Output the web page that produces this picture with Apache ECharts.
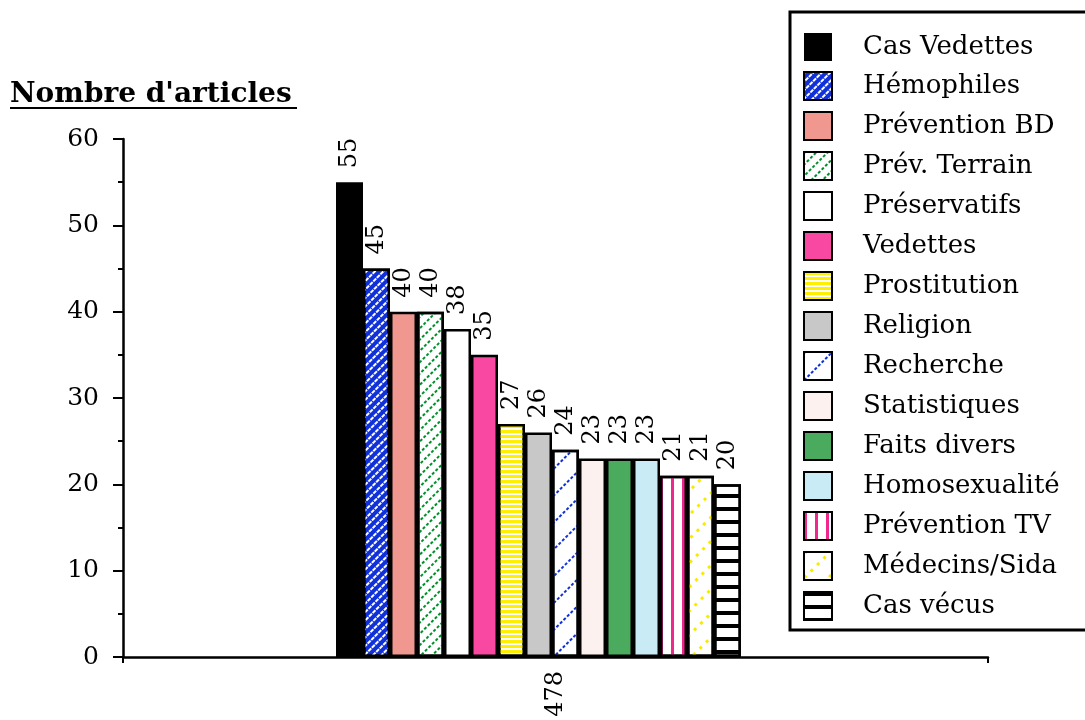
<!DOCTYPE html>
<html>
<head>
<meta charset="utf-8">
<script src="https://cdn.jsdelivr.net/npm/echarts@6/dist/echarts.min.js"></script>
<style>html,body{margin:0;padding:0;background:#fff;}#c{width:1085px;height:720px;}</style>
</head>
<body>
<div id="c"></div>
<script>
const xCategories = ['478'];
const seriesNames = ['Cas Vedettes','Hémophiles','Prévention BD','Prév. Terrain','Préservatifs','Vedettes','Prostitution','Religion','Recherche','Statistiques','Faits divers','Homosexualité','Prévention TV','Médecins/Sida','Cas vécus'];
const seriesValues = [55,45,40,40,38,35,27,26,24,23,23,23,21,21,20];
const yTicks = [0,10,20,30,40,50,60];

const FONT = 'DejaVu Serif';
const D = -Math.PI/4;
const styles = [
  {color:'#000000'},
  {color:'#1030d8', decal:{color:'#ffffff', dashArrayX:[4,1], dashArrayY:[2,4], rotation:D}},
  {color:'#f09890'},
  {color:'#ffffff', decal:{color:'#00902a', dashArrayX:[3,2], dashArrayY:[2,6], rotation:D}},
  {color:'#ffffff'},
  {color:'#f848a2'},
  {color:'#ffffff', decal:{color:'#fff000', dashArrayX:[1,0], dashArrayY:[3,2], rotation:0}},
  {color:'#c8c8c8'},
  {color:'#ffffff', decal:{color:'#1030d8', dashArrayX:[3,2], dashArrayY:[2,17], rotation:D}},
  {color:'#fdf1ef'},
  {color:'#4aab5e'},
  {color:'#c9ebf6'},
  {color:'#ffffff', decal:{color:'#f0288e', dashArrayX:[3,8], dashArrayY:[1,0], rotation:0}},
  {color:'#ffffff', decal:{color:'#f8ea00', dashArrayX:[3,6], dashArrayY:[3,14], rotation:D}},
  {color:'#ffffff', decal:{color:'#000000', dashArrayX:[1,0], dashArrayY:[4,9], rotation:0}}
];

const series = seriesNames.map((name,i)=>({
  name: name,
  type: 'bar',
  xAxisIndex: 0, yAxisIndex: 0,
  data: [seriesValues[i]],
  barWidth: 27,
  barGap: '0%',
  itemStyle: Object.assign({borderColor:'#000', borderWidth: i===0?0:2.5}, styles[i].decal ? {decal: Object.assign({symbol:'rect', symbolSize:1}, styles[i].decal)} : {}, {color: styles[i].color}),
  label: {
    show: true, position: 'top', rotate: 90, align: 'left', verticalAlign: 'middle',
    distance: 14, fontFamily: FONT, fontSize: 24, color: '#000'
  }
}));

const yMin = yTicks[0], yMax = yTicks[yTicks.length-1];
const chart = echarts.init(document.getElementById('c'), null, {renderer:'canvas'});
chart.setOption({
  animation: false,
  backgroundColor: '#fff',
  grid: [
    {left:106, right:114, top:139, bottom:63, containLabel:false},
    {left:123, right:97, top:139, bottom:63, containLabel:false}
  ],
  graphic: [
    {type:'text', left:10, top:81, style:{text:"Nombre d'articles", font:'bold 28px "DejaVu Serif"', fill:'#000'}},
    {type:'line', shape:{x1:10, y1:108, x2:297, y2:108}, style:{stroke:'#000', lineWidth:2}}
  ],
  legend: {
    orient:'vertical', left:790, top:12,
    itemWidth:28, itemHeight:28, itemGap:10,
    borderColor:'#000', borderWidth:3,
    padding:[21,200,9,13],
    selectedMode:false,
    icon:'rect',
    textStyle:{fontFamily:FONT, fontSize:26, lineHeight:28, color:'#000', padding:[0,0,0,26]},
    data: seriesNames
  },
  xAxis: [
    {gridIndex:0, type:'category', data:xCategories, show:false},
    {
      gridIndex:1, type:'category', data:xCategories, boundaryGap:true,
      axisLine:{lineStyle:{color:'#000', width:2.5}},
      axisTick:{show:true, length:6, lineStyle:{color:'#000', width:2}},
      axisLabel:{rotate:90, fontFamily:FONT, fontSize:24, color:'#000', margin:14}
    }
  ],
  yAxis: [
    {gridIndex:0, type:'value', min:yMin, max:yMax, interval:10, show:false, splitLine:{show:false}},
    {
      gridIndex:1, type:'value', min:yMin, max:yMax, interval:10,
      axisLine:{show:true, lineStyle:{color:'#000', width:2.5}},
      axisTick:{show:true, length:10, lineStyle:{color:'#000', width:2}},
      minorTick:{show:true, splitNumber:2, length:5, lineStyle:{color:'#000', width:2}},
      splitLine:{show:false},
      axisLabel:{fontFamily:FONT, fontSize:25, color:'#000', margin:24}
    }
  ],
  series: series
});
</script>
</body>
</html>
